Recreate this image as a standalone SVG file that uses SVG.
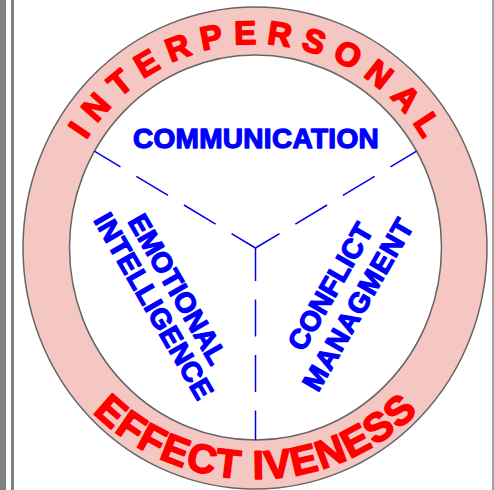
<svg xmlns="http://www.w3.org/2000/svg" width="494" height="490" viewBox="0 0 494 490">
<style>
.red{font-family:"Liberation Sans",Arial,sans-serif;font-weight:bold;fill:#ff0000;stroke:#ff0000;stroke-width:1.7;stroke-linejoin:round;}
.blue{font-family:"Liberation Sans",Arial,sans-serif;font-weight:bold;font-size:28px;fill:#0000ff;stroke:#0000ff;stroke-width:1.3;stroke-linejoin:round;text-anchor:middle;}
.dash{fill:none;stroke:#0000ee;stroke-width:1.5;stroke-dasharray:37 18.5;}
</style>
<defs>
<path id="topArc" d="M56,248 A199,204 0 0 1 454,248"/>
<path id="botArc" d="M24,248 A231,231 0 0 0 486,248"/>
</defs>
<rect x="0" y="0" width="494" height="490" fill="#ffffff"/>
<rect x="0" y="0" width="6" height="490" fill="#808080"/>
<rect x="11" y="0" width="3" height="490" fill="#808080"/>
<rect x="492" y="0" width="2" height="490" fill="#a0a0a0"/>
<g id="ring">
<ellipse cx="255" cy="248" rx="232" ry="241" fill="#f4c7c3" stroke="#666666" stroke-width="1.5"/>
<ellipse cx="255.5" cy="247.5" rx="186" ry="192.5" fill="#ffffff" stroke="#666666" stroke-width="1.5"/>
<text class="red" font-size="33" letter-spacing="10.2"><textPath href="#topArc" startOffset="321" text-anchor="middle">INTERPERSONAL</textPath></text>
<text class="red" font-size="40" letter-spacing="1.6"><textPath href="#botArc" startOffset="364" text-anchor="middle">EFFECT IVENESS</textPath></text>
</g>
<g id="connectors">
<path class="dash" d="M255.5,248 L94.4,151.2" stroke-dashoffset="9"/>
<path class="dash" d="M255.5,248 L416.6,151.2" stroke-dashoffset="9"/>
<path class="dash" d="M255.5,248 L255.5,440" stroke-dashoffset="4"/>
</g>
<g id="communication">
<text class="blue" x="256" y="148" letter-spacing="0.3">COMMUNICATION</text>
</g>
<g id="emotional-intelligence">
<text class="blue" transform="translate(169.3,294) rotate(60)">EMOTIONAL</text>
<text class="blue" transform="translate(145.5,311) rotate(60)" letter-spacing="0.4">INTELLIGENCE</text>
</g>
<g id="conflict-managment">
<text class="blue" transform="translate(338.7,291.5) rotate(-60)">CONFLICT</text>
<text class="blue" transform="translate(366.5,309) rotate(-60)" letter-spacing="1">MANAGMENT</text>
</g>
</svg>
